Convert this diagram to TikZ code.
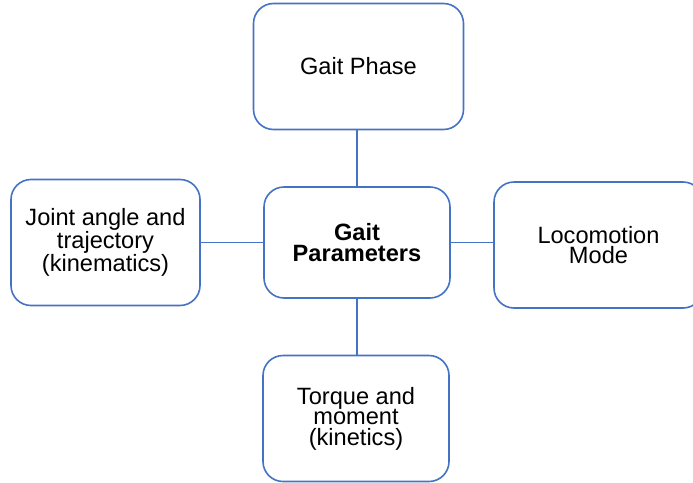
\documentclass[tikz,border=0pt]{standalone}
\usepackage{fontspec}
\setmainfont{Liberation Sans}
\definecolor{boxblue}{RGB}{68,114,196}
\tikzset{
  mapbox/.style={draw=boxblue, line width=1.6pt, rounded corners=20pt,
    fill=white, align=center, inner sep=0pt,
    font=\fontsize{23.6}{20.5}\selectfont},
  link/.style={draw=boxblue, line width=1.1pt}
}
\begin{document}
\begin{tikzpicture}[x=1pt,y=-1pt]
  \useasboundingbox (0,0) rectangle (693,482);
  \clip (0,0) rectangle (693,482);
  \fill[white] (0,0) rectangle (693,482);

  % central concept and its four aspects
  \node[mapbox, minimum width=186pt, minimum height=111pt]
    (centre) at (357,242.5) {\textbf{Gait}\\\textbf{Parameters}};
  \node[mapbox, minimum width=210pt, minimum height=126pt]
    (phase) at (358.5,66.5) {Gait Phase};
  \node[mapbox, minimum width=189pt, minimum height=126pt]
    (joint) at (105.5,242.5) {Joint angle and\\trajectory\\(kinematics)};
  \node[mapbox, minimum width=209pt, minimum height=126pt]
    (mode) at (598.5,245) {Locomotion\\Mode};
  \node[mapbox, minimum width=186pt, minimum height=126pt]
    (torque) at (356,418.5) {Torque and\\moment\\(kinetics)};

  % connectors from the centre to each aspect
  \draw[link] (centre.north) -- (centre.north |- phase.south);
  \draw[link] (centre.south) -- (centre.south |- torque.north);
  \draw[link] (centre.west) -- (centre.west -| joint.east);
  \draw[link] (centre.east) -- (centre.east -| mode.west);
\end{tikzpicture}
\end{document}
